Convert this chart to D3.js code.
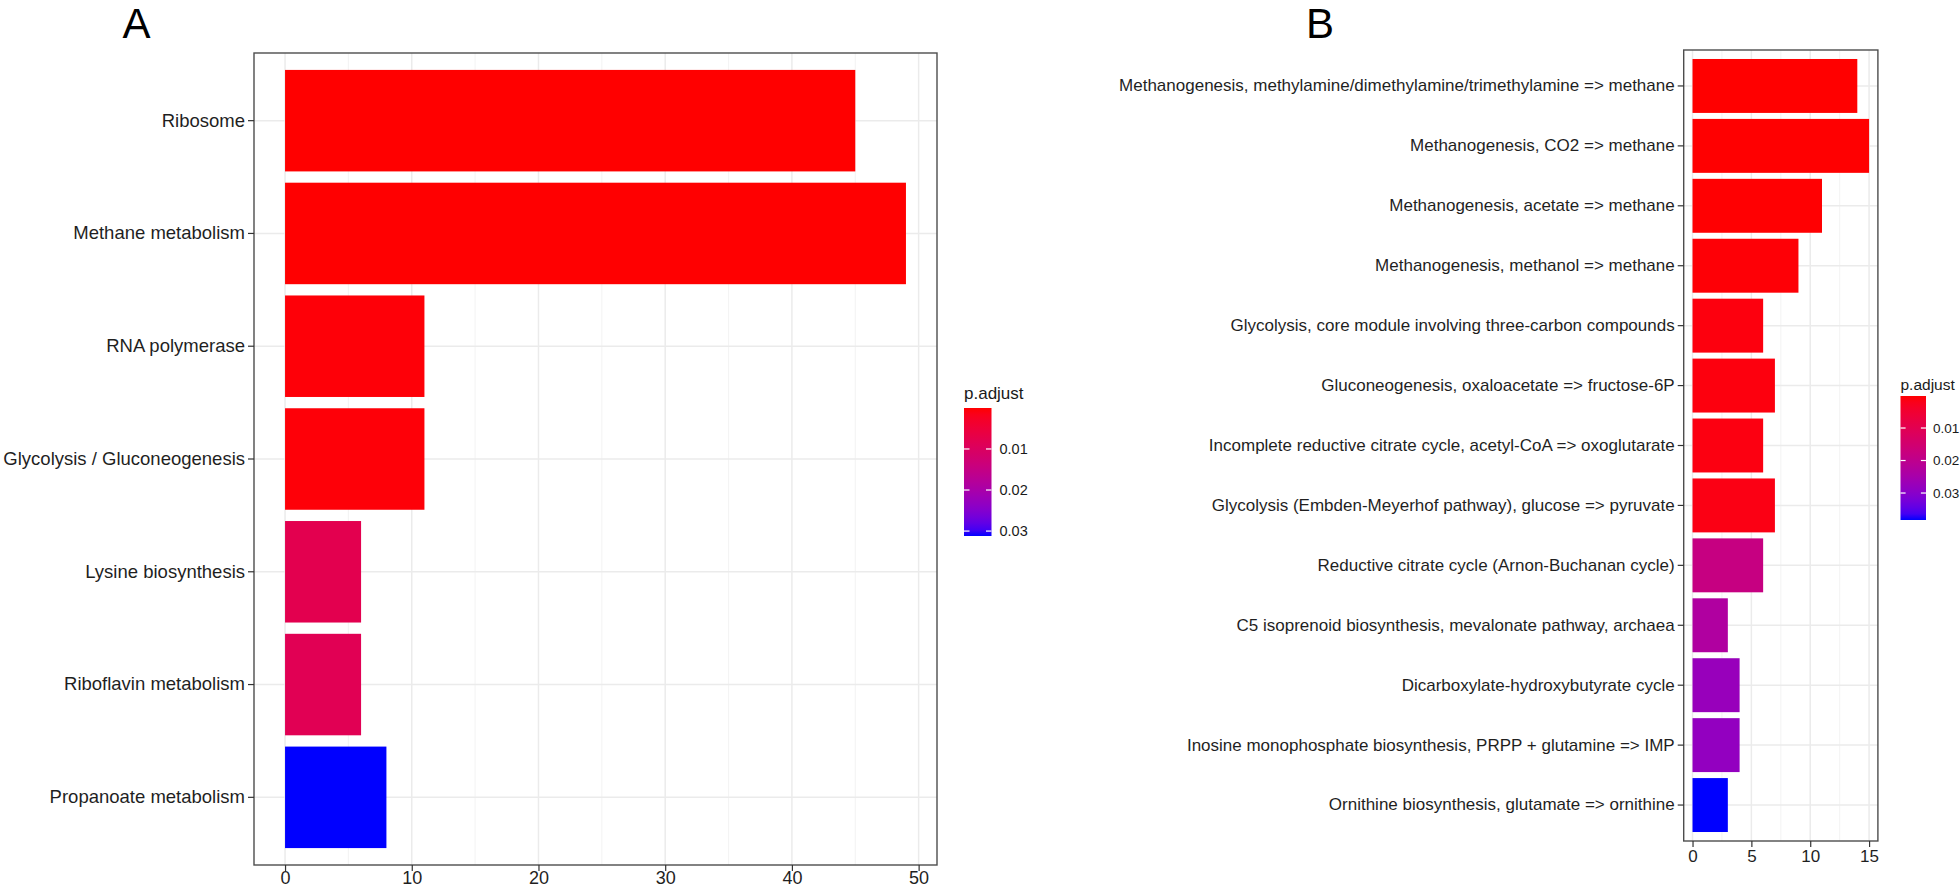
<!DOCTYPE html>
<html>
<head>
<meta charset="utf-8">
<script src="https://cdn.jsdelivr.net/npm/d3@7"></script>
<style>
  html, body { margin: 0; padding: 0; background: #fff; }
  svg { display: block; }
  text { font-family: "Liberation Sans", Arial, sans-serif; }
</style>
</head>
<body>
<svg id="chart" width="1960" height="888"></svg>
<script>
// ---------------- DATA ----------------
const categoriesA = ["Ribosome", "Methane metabolism", "RNA polymerase", "Glycolysis / Gluconeogenesis",
  "Lysine biosynthesis", "Riboflavin metabolism", "Propanoate metabolism"];
const countsA = [45, 49, 11, 11, 6, 6, 8];
const padjA = [0.00002, 0.00005, 0.0004, 0.0004, 0.0078, 0.0084, 0.0312];
const ticksA = [0, 10, 20, 30, 40, 50];

const categoriesB = [
  "Methanogenesis, methylamine/dimethylamine/trimethylamine => methane",
  "Methanogenesis, CO2 => methane",
  "Methanogenesis, acetate => methane",
  "Methanogenesis, methanol => methane",
  "Glycolysis, core module involving three-carbon compounds",
  "Gluconeogenesis, oxaloacetate => fructose-6P",
  "Incomplete reductive citrate cycle, acetyl-CoA => oxoglutarate",
  "Glycolysis (Embden-Meyerhof pathway), glucose => pyruvate",
  "Reductive citrate cycle (Arnon-Buchanan cycle)",
  "C5 isoprenoid biosynthesis, mevalonate pathway, archaea",
  "Dicarboxylate-hydroxybutyrate cycle",
  "Inosine monophosphate biosynthesis, PRPP + glutamine => IMP",
  "Ornithine biosynthesis, glutamate => ornithine"];
const countsB = [14, 15, 11, 9, 6, 7, 6, 7, 6, 3, 4, 4, 3];
const padjB = [0.00015, 0.0002, 0.0003, 0.0005, 0.001, 0.001, 0.0012, 0.0015, 0.018, 0.0231, 0.0276, 0.0284, 0.0383];
const ticksB = [0, 5, 10, 15];

const legendTicks = [0.01, 0.02, 0.03];
const legendTitle = "p.adjust";
const panelLetters = ["A", "B"];

// ---------------- DRAW ----------------
const svg = d3.select("#chart");
const lowColor = "red", highColor = "blue";

function drawPanel(cfg) {
  const g = svg.append("g");
  const {left, right, top, bottom} = cfg.box;
  const maxV = d3.max(cfg.values);
  const x = d3.scaleLinear().domain([-0.05 * maxV, maxV * 1.05]).range([left, right]);
  const y = d3.scaleBand().domain(cfg.cats).range([top, bottom]).paddingInner(0.1).paddingOuter(0.15);
  const pExt = d3.extent(cfg.padj);
  const col = d3.scaleLinear().domain(pExt).range([lowColor, highColor]).interpolate(d3.interpolateLab);

  // minor grid
  const step = cfg.ticks[1] - cfg.ticks[0];
  const minor = cfg.ticks.map(t => t + step / 2).filter(t => t < x.domain()[1]);
  g.selectAll(".minor").data(minor).join("line")
    .attr("x1", d => x(d)).attr("x2", d => x(d)).attr("y1", top).attr("y2", bottom)
    .attr("stroke", "#f0f0f0").attr("stroke-width", 0.8);
  // major grid
  g.selectAll(".majx").data(cfg.ticks).join("line")
    .attr("x1", d => x(d)).attr("x2", d => x(d)).attr("y1", top).attr("y2", bottom)
    .attr("stroke", "#ebebeb").attr("stroke-width", 1.5);
  g.selectAll(".majy").data(cfg.cats).join("line")
    .attr("x1", left).attr("x2", right)
    .attr("y1", d => y(d) + y.bandwidth() / 2).attr("y2", d => y(d) + y.bandwidth() / 2)
    .attr("stroke", "#ebebeb").attr("stroke-width", 1.5);

  // bars
  g.selectAll(".bar").data(cfg.cats).join("rect")
    .attr("x", x(0)).attr("y", d => y(d))
    .attr("width", (d, i) => x(cfg.values[i]) - x(0))
    .attr("height", y.bandwidth())
    .attr("fill", (d, i) => col(cfg.padj[i]));

  // border
  g.append("rect").attr("x", left).attr("y", top).attr("width", right - left).attr("height", bottom - top)
    .attr("fill", "none").attr("stroke", "#4d4d4d").attr("stroke-width", 1.4);

  // y axis
  const ya = d3.axisLeft(y).tickSize(6).tickPadding(3);
  const yg = g.append("g").attr("transform", `translate(${left},0)`).call(ya);
  yg.select(".domain").remove();
  yg.selectAll(".tick line").attr("stroke", "#333").attr("stroke-width", 1.2);
  yg.selectAll(".tick text").attr("fill", "#1f1f1f").style("font-size", cfg.fs + "px")
    .style("font-family", '"Liberation Sans", Arial, sans-serif');

  // x axis
  const xa = d3.axisBottom(x).tickValues(cfg.ticks).tickSize(6).tickPadding(cfg.xpad).tickFormat(d3.format("d"));
  const xg = g.append("g").attr("transform", `translate(0,${bottom})`).call(xa);
  xg.select(".domain").remove();
  xg.selectAll(".tick line").attr("stroke", "#333").attr("stroke-width", 1.2);
  xg.selectAll(".tick text").attr("fill", "#1f1f1f").style("font-size", cfg.xfs + "px")
    .style("font-family", '"Liberation Sans", Arial, sans-serif');

  // panel letter
  svg.append("text").attr("x", cfg.letterX).attr("y", 38).attr("text-anchor", "middle")
    .style("font-size", "42px").attr("fill", "#000").text(cfg.letter);

  // legend
  const L = cfg.legend;
  const gradId = "grad" + cfg.letter;
  const grad = svg.append("defs").append("linearGradient").attr("id", gradId)
    .attr("x1", 0).attr("x2", 0).attr("y1", 0).attr("y2", 1);
  d3.range(0, 1.0001, 0.05).forEach(t => {
    grad.append("stop").attr("offset", t).attr("stop-color", col(pExt[0] + t * (pExt[1] - pExt[0])));
  });
  const lg = svg.append("g");
  lg.append("text").attr("x", L.x).attr("y", L.titleY).style("font-size", L.tfs + "px")
    .attr("fill", "#1a1a1a").text(legendTitle);
  lg.append("rect").attr("x", L.x).attr("y", L.y0).attr("width", L.w).attr("height", L.y1 - L.y0)
    .attr("fill", `url(#${gradId})`);
  const ly = d3.scaleLinear().domain(pExt).range([L.y0, L.y1]);
  const lt = legendTicks.filter(v => v >= pExt[0] && v <= pExt[1]);
  lg.selectAll(".lt1").data(lt).join("line")
    .attr("x1", L.x).attr("x2", L.x + L.w * 0.2).attr("y1", d => ly(d)).attr("y2", d => ly(d))
    .attr("stroke", "#fff").attr("stroke-width", 1.2);
  lg.selectAll(".lt2").data(lt).join("line")
    .attr("x1", L.x + L.w * 0.8).attr("x2", L.x + L.w).attr("y1", d => ly(d)).attr("y2", d => ly(d))
    .attr("stroke", "#fff").attr("stroke-width", 1.2);
  lg.selectAll(".ll").data(lt).join("text")
    .attr("x", L.x + L.w + L.lpad).attr("y", d => ly(d)).attr("dy", "0.35em")
    .style("font-size", L.lfs + "px").attr("fill", "#1a1a1a").text(d => d.toFixed(2));
}

drawPanel({
  letter: panelLetters[0], letterX: 136.5,
  cats: categoriesA, values: countsA, padj: padjA, ticks: ticksA,
  box: {left: 254, right: 937, top: 53, bottom: 865},
  fs: 18.5, xfs: 18, xpad: 0,
  legend: {x: 964, titleY: 399, tfs: 17, y0: 408, y1: 536, w: 27.5, lpad: 8, lfs: 14.5}
});

drawPanel({
  letter: panelLetters[1], letterX: 1320,
  cats: categoriesB, values: countsB, padj: padjB, ticks: ticksB,
  box: {left: 1683.7, right: 1877.9, top: 50, bottom: 841},
  fs: 17, xfs: 17, xpad: 3,
  legend: {x: 1900.5, titleY: 390, tfs: 15.5, y0: 396, y1: 520, w: 25.5, lpad: 7, lfs: 13.5}
});
</script>
</body>
</html>
